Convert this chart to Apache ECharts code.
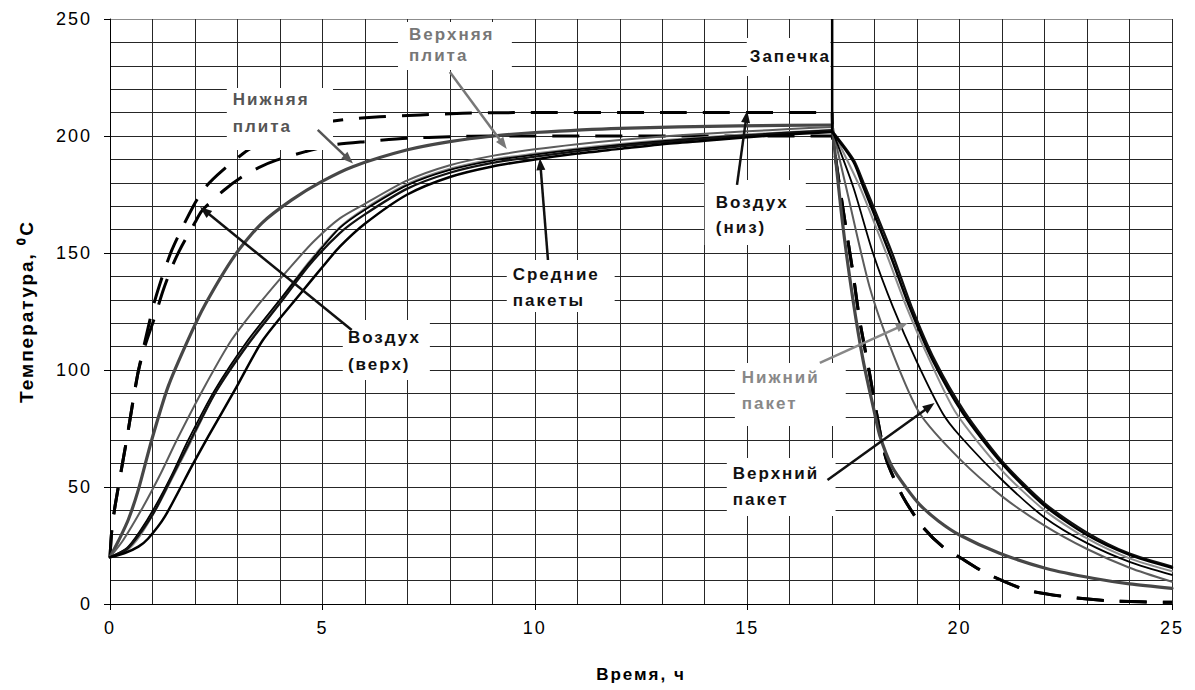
<!DOCTYPE html>
<html>
<head>
<meta charset="utf-8">
<script src="https://cdn.jsdelivr.net/npm/echarts/dist/echarts.min.js"></script>
<style>
  html, body { margin: 0; padding: 0; background: #fff; }
  #chart { width: 1195px; height: 690px; }
  #chart svg text { letter-spacing: 2px; }
</style>
</head>
<body>
<div id="chart"></div>
<script>
// Temperature of air, press plates and packets during a 17-hour heating and the cooling after it.
// Each curve is kept as a heating part (0..17 h) and a cooling part (17..25 h).

const xTicks = [0, 5, 10, 15, 20, 25];
const yTicks = [0, 50, 100, 150, 200, 250];

const airTopHeat = [[0,20],[0.04,31],[0.12,42],[0.39,70],[0.65,98],[0.82,112],[1.06,130],[1.45,151],[1.96,170],[2.24,178],[2.63,185],[3.25,194],[3.8,199],[4.55,204.5],[5.5,207],[6.35,208.2],[7.3,209],[8.3,209.7],[9.5,210],[13,210],[17,210]];
const airTopCool = [[17,210],[17.02,200],[17.18,178],[17.33,160],[17.49,141.5],[17.65,121],[17.88,98.6],[18.04,82],[18.27,62],[18.66,46],[19.13,33],[19.6,24.5],[20,20],[20.63,13.1],[21.57,6],[22.5,3.1],[23.6,1.3],[25,0.7]];

const airBottomHeat = [[0,20],[0.04,31],[0.12,42],[0.39,70],[0.65,98],[0.82,110],[1.06,123],[1.25,134],[1.48,145],[1.69,153],[2.0,163],[2.16,168],[2.66,176.5],[3.1,182.5],[3.5,186.5],[3.92,189.7],[4.6,193.3],[5.25,196.2],[6,197.6],[7,199],[8,199.7],[9,200],[17,200]];
const airBottomCool = [[17,200],[17.18,178],[17.33,160],[17.49,141.5],[17.65,121],[17.88,98.6],[18.04,82],[18.27,62],[18.66,46],[19.13,33],[19.6,24.5],[20,20],[20.63,13.1],[21.57,6],[22.5,3.1],[23.6,1.3],[25,0.7]];

const plateBottomHeat = [[0,20],[0.2,27],[0.43,36],[0.67,49],[0.98,70],[1.37,93],[1.84,113],[2.24,128],[2.94,149],[3.57,162.7],[4.27,172.6],[4.98,180.5],[5.73,187],[6.98,194],[8,197.6],[9.02,200],[10,201.5],[12,203.3],[14.8,204.3],[17,204.7]];
const plateBottomCool = [[17,204.7],[17.25,162],[17.49,130],[17.73,104],[18,81.5],[18.12,72],[18.4,59],[18.75,49.5],[19.06,42.5],[19.5,35.5],[20,29.5],[20.94,21.7],[22.04,15.2],[23.14,11],[24,8.6],[25,6.7]];

const plateTopHeat = [[0,20],[0.3,27],[0.78,41.6],[1.2,56],[1.57,70],[2.2,92],[2.86,112.8],[3.5,128],[4.2,143],[4.8,155],[5.41,164.8],[6,171],[7,181],[8,187.5],[9,191.5],[10,194.3],[11,196.5],[12,198.3],[13,199.8],[14,201],[15,202],[16,203],[17,203.8]];
const plateTopCool = [[17,203.8],[17.33,178],[17.88,135.6],[18.43,107],[19.06,81.5],[20,62],[21,46],[22,33.5],[23,23.5],[24,15.5],[25,9.5]];

const packTopHeat = [[0,20],[0.4,24],[0.7,31],[1.06,41.6],[1.45,55],[1.84,70],[2.47,91.5],[3.25,112.8],[4,130],[4.7,146],[5.41,160.7],[6,168.5],[7,179],[8,185.5],[9,189.5],[10,192],[11,194.3],[12,196.2],[13,197.8],[14,199.2],[15,200.4],[16,201.5],[17,202.5]];
const packTopCool = [[17,202.5],[17.5,178],[17.96,150],[18.43,127],[18.98,104],[19.6,81.5],[20,72],[21,53],[22,37],[23,26],[24,18],[25,12.4]];

const packBottomHeat = [[0,20],[0.4,23],[0.7,29],[1.1,41],[1.5,55],[1.92,70],[2.5,91],[3.25,112],[4,130],[4.7,146.5],[5.41,161],[6,169],[7,179.5],[8,186],[9,190],[10,192.5],[11,194.7],[12,196.6],[13,198.2],[14,199.5],[15,200.7],[16,201.7],[17,202.7]];
const packBottomCool = [[17,202.7],[17.65,178.3],[18.27,150],[18.75,127],[19.3,104],[19.92,81.5],[21,57],[22,40],[23,28],[24,19.5],[25,14]];

const packMidAHeat = [[0,20],[0.35,21.8],[0.67,24.5],[0.9,28],[1.29,37.3],[1.92,58.7],[2.31,71.5],[2.94,91.5],[3.6,112.8],[4.5,133],[5,144],[5.41,152.7],[6,162.5],[7,175],[8,182.5],[9,187],[10,190],[11,192.5],[12,194.5],[13,196.5],[14,198],[15,199.5],[16,200.7],[17,201.7]];
const packMidACool = [[17,201.7],[17.5,189],[17.73,178.4],[18.35,150],[18.82,127],[19.37,104],[20.08,81.5],[21,60],[22,42],[23,29.5],[24,21],[25,15.5]];

const packMidBHeat = [[0,20],[0.4,23.5],[0.7,30],[1.06,40],[1.45,54],[1.84,68],[2.47,90],[3.25,111],[4,128.5],[4.7,145],[5.41,158.5],[6,166.5],[7,177.5],[8,184.3],[9,188.5],[10,191.2],[11,193.5],[12,195.6],[13,197.3],[14,198.8],[15,200.1],[16,201.2],[17,202.2]];
const packMidBCool = [[17,202.2],[17.5,190],[17.75,179.5],[18.4,150.5],[18.87,127],[19.42,104],[20.12,82],[21,61],[22,43],[23,30.5],[24,21.5],[25,16]];

const bakeEnd = 17;          // end of the heating stage ("Запечка")
const bakeMarkTop = 250;
const bakeMarkBottom = 202;

const FONT = '"Liberation Sans", Arial, Helvetica, sans-serif';
const DASH = [27, 16];

const curves = [
  { name: 'Воздух (верх)', parts: [airTopHeat, airTopCool], color: '#000', width: 3, dash: DASH, offsets: [0, 0] },
  { name: 'Воздух (низ)', parts: [airBottomHeat, airBottomCool], color: '#000', width: 3, dash: DASH, offsets: [0, 23] },
  { name: 'Нижняя плита', parts: [plateBottomHeat, plateBottomCool], color: '#474747', width: 3.2 },
  { name: 'Верхняя плита', parts: [plateTopHeat, plateTopCool], color: '#5c5c5c', width: 2 },
  { name: 'Нижний пакет', parts: [packBottomHeat, packBottomCool], color: '#8c8c8c', width: 2 },
  { name: 'Верхний пакет', parts: [packTopHeat, packTopCool], color: '#000', width: 1.8 },
  { name: 'Средний пакет 1', parts: [packMidBHeat, packMidBCool], color: '#111', width: 2.3 },
  { name: 'Средний пакет 2', parts: [packMidAHeat, packMidACool], color: '#000', width: 2.5 }
];

// Callouts: white box, text lines and an arrow, all anchored in data coordinates (hours, °C).
const callouts = [
  { lines: ['Верхняя', 'плита'], color: '#777', box: [6.78, 248.7, 9.46, 228.2], text: [7.04, 243.2], step: 21, arrow: [8.0, 227.4, 9.34, 194.4] },
  { lines: ['Нижняя', 'плита'], color: '#555', box: [2.75, 220.5, 5.25, 194], text: [2.89, 215.4], step: 27, arrow: [4.89, 202.6, 5.72, 188.3] },
  { lines: ['Запечка'], color: '#111', box: [14.99, 241.9, 16.96, 225.6], text: [15.06, 233.8], step: 0, arrow: null },
  { lines: ['Воздух', '(низ)'], color: '#111', box: [14.0, 181.2, 16.38, 153.4], text: [14.26, 171.4], step: 25, arrow: [14.76, 179.1, 15.0, 210.8] },
  { lines: ['Средние', 'пакеты'], color: '#111', box: [9.34, 147, 11.88, 124.8], text: [9.48, 140.6], step: 26, arrow: [10.31, 147, 10.12, 190.5] },
  { lines: ['Воздух', '(верх)'], color: '#111', box: [5.48, 121.4, 7.53, 95.7], text: [5.6, 113.7], step: 27, arrow: [5.69, 117.1, 2.12, 169.7] },
  { lines: ['Нижний', 'пакет'], color: '#888', box: [14.71, 103, 17.32, 76.1], text: [14.87, 96.6], step: 26, arrow: [16.71, 103, 18.78, 120.1] },
  { lines: ['Верхний', 'пакет'], color: '#111', box: [14.52, 62.4, 17.08, 37.6], text: [14.66, 55.6], step: 26, arrow: [16.89, 53, 19.41, 85.9] }
];

const series = [];
curves.forEach(c => {
  c.parts.forEach((part, i) => {
    series.push({
      type: 'line',
      name: c.name,
      data: part,
      symbol: 'none',
      showSymbol: false,
      smooth: 0.25,
      silent: true,
      animation: false,
      z: 3,
      lineStyle: {
        color: c.color, width: c.width, type: c.dash || 'solid',
        dashOffset: c.offsets ? c.offsets[i] : 0,
        cap: c.dash ? 'butt' : 'round', join: 'round'
      }
    });
  });
});

const gridLine = { color: '#262626', width: 1 };
// the top border of the plot is a lighter grey than the inner grid
const ySplitColors = yTicks.map((v, i) => (i === yTicks.length - 1 ? '#8c8c8c' : '#262626'));

const option = {
  animation: false,
  backgroundColor: '#fff',
  grid: { left: 110, right: 23, top: 19, bottom: 86, containLabel: false },
  xAxis: {
    type: 'value',
    min: xTicks[0],
    max: xTicks[xTicks.length - 1],
    interval: xTicks[1] - xTicks[0],
    axisLine: { show: true, onZero: false, lineStyle: { color: '#000', width: 1 } },
    axisTick: { show: true, length: 6, lineStyle: { color: '#000' } },
    axisLabel: { color: '#000', fontSize: 18, fontFamily: FONT, margin: 15 },
    splitLine: { show: true, lineStyle: gridLine },
    minorTick: { show: false, splitNumber: 5 },
    minorSplitLine: { show: true, lineStyle: gridLine },
    name: 'Время, ч',
    nameLocation: 'middle',
    nameGap: 62,
    nameTextStyle: { color: '#000', fontSize: 17, fontWeight: 'bold', fontFamily: FONT }
  },
  yAxis: {
    type: 'value',
    min: yTicks[0],
    max: yTicks[yTicks.length - 1],
    interval: yTicks[1] - yTicks[0],
    axisLine: { show: true, lineStyle: { color: '#000', width: 1 } },
    axisTick: { show: true, length: 6, lineStyle: { color: '#000' } },
    axisLabel: { color: '#000', fontSize: 18, fontFamily: FONT, margin: 18 },
    splitLine: { show: true, lineStyle: { color: ySplitColors, width: 1 } },
    minorTick: { show: false, splitNumber: 5 },
    minorSplitLine: { show: true, lineStyle: gridLine },
    name: 'Температура, \u2070C',
    nameLocation: 'middle',
    nameGap: 74,
    nameRotate: 90,
    nameTextStyle: { color: '#000', fontSize: 19, fontWeight: 'bold', fontFamily: FONT }
  },
  series: series
};

const chart = echarts.init(document.getElementById('chart'), null, { renderer: 'svg', width: 1195, height: 690 });
chart.setOption(option);

function toPx(p) { return chart.convertToPixel({ gridIndex: 0 }, p); }

const elements = [];
callouts.forEach(a => {
  const p0 = toPx([a.box[0], a.box[1]]);
  const p1 = toPx([a.box[2], a.box[3]]);
  elements.push({
    type: 'rect', silent: true, z: 20,
    shape: { x: p0[0], y: p0[1], width: p1[0] - p0[0], height: p1[1] - p0[1] },
    style: { fill: '#fff' }
  });
  const t0 = toPx(a.text);
  a.lines.forEach((s, i) => {
    elements.push({
      type: 'text', silent: true, z: 22,
      x: t0[0], y: t0[1] + i * a.step,
      style: { text: s, fill: a.color, font: 'bold 17px ' + FONT, align: 'left', verticalAlign: 'middle', textAlign: 'left', textVerticalAlign: 'middle' }
    });
  });
  if (a.arrow) {
    const s = toPx([a.arrow[0], a.arrow[1]]);
    const e = toPx([a.arrow[2], a.arrow[3]]);
    const dx = e[0] - s[0], dy = e[1] - s[1];
    const len = Math.hypot(dx, dy);
    const ux = dx / len, uy = dy / len;
    const headLen = 12, headHalf = 4.5;
    const bx = e[0] - ux * headLen, by = e[1] - uy * headLen;
    elements.push({
      type: 'line', silent: true, z: 23,
      shape: { x1: s[0], y1: s[1], x2: bx + ux * 1, y2: by + uy * 1 },
      style: { stroke: a.color, lineWidth: 2.5 }
    });
    elements.push({
      type: 'polygon', silent: true, z: 23,
      shape: { points: [[e[0], e[1]], [bx - uy * headHalf, by + ux * headHalf], [bx + uy * headHalf, by - ux * headHalf]] },
      style: { fill: a.color }
    });
  }
});

// Vertical marker at the end of heating
const m0 = toPx([bakeEnd, bakeMarkTop]);
const m1 = toPx([bakeEnd, bakeMarkBottom]);
elements.push({
  type: 'line', silent: true, z: 24,
  shape: { x1: m0[0], y1: m0[1], x2: m1[0], y2: m1[1] },
  style: { stroke: '#000', lineWidth: 2.5 }
});

chart.setOption({ graphic: { elements: elements } });
</script>
</body>
</html>
